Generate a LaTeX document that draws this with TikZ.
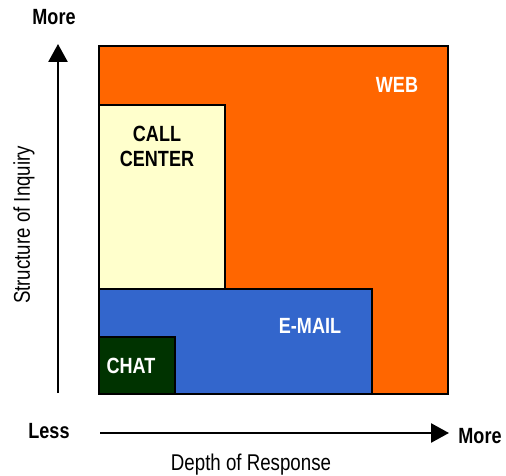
\documentclass[tikz,border=0pt]{standalone}
\usepackage{fontspec}
\setmainfont[FakeStretch=0.82]{Liberation Sans}
\usetikzlibrary{arrows.meta}
\definecolor{weborange}{HTML}{FF6600}
\definecolor{callyellow}{HTML}{FFFFCC}
\definecolor{mailblue}{HTML}{3366CC}
\definecolor{chatgreen}{HTML}{003300}
\tikzset{
  zone/.style={draw=black, line width=2.2pt, anchor=north west, inner sep=0pt},
  lbl/.style={font=\fontsize{22}{24}\selectfont\bfseries, inner sep=0pt, align=center},
  axlbl/.style={font=\fontsize{22.8}{25}\selectfont, inner sep=0pt},
  axis/.style={line width=2.6pt, -{Triangle[length=18pt,width=19pt]}}
}
\begin{document}
\begin{tikzpicture}[x=1pt,y=-1pt]
\useasboundingbox (0,0) rectangle (506,476);
\node[zone, fill=weborange, minimum width=349pt, minimum height=348pt] (web) at (98,45) {};
\node[zone, fill=callyellow, minimum width=126pt, minimum height=184pt] (call) at (98,104) {};
\node[zone, fill=mailblue, minimum width=273pt, minimum height=105pt] (mail) at (98,288) {};
\node[zone, fill=chatgreen, minimum width=76pt, minimum height=57pt] (chat) at (98,336) {};
\node[lbl, text=white] (webt) at (397,85) {WEB};
\node[lbl, text=black] (callt) at (157,146) {CALL\\[1pt]CENTER};
\node[lbl, text=white] (mailt) at (310,326) {E-MAIL};
\node[lbl, text=white] (chatt) at (131,366) {CHAT};
\coordinate (yb) at (58,393);
\coordinate (yt) at (58,44);
\coordinate (xl) at (100,433);
\coordinate (xr) at (449,433);
\draw[axis] (yb) -- (yt);
\draw[axis] (xl) -- (xr);
\node[lbl] (moretop) at (54,17) {More};
\node[lbl] (less) at (49,431) {Less};
\node[lbl] (moreright) at (480,436) {More};
\node[axlbl] (depth) at (251,465) {Depth of Response};
\node[axlbl, rotate=90] (struct) at (24,225) {Structure of Inquiry};
\end{tikzpicture}
\end{document}
